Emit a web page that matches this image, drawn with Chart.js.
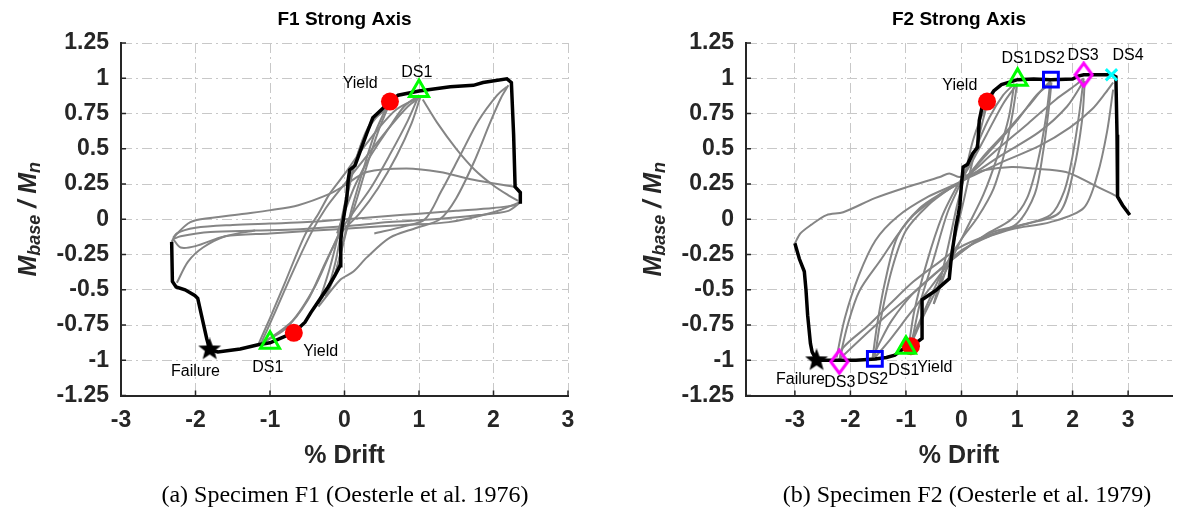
<!DOCTYPE html>
<html>
<head>
<meta charset="utf-8">
<script src="https://cdn.jsdelivr.net/npm/chart.js@4.4.1/dist/chart.umd.min.js"></script>
<style>
  body { margin: 0; background: #fff; width: 1186px; height: 519px; overflow: hidden; position: relative; }
  canvas { position: absolute; top: 0; }
  #c1 { left: 0; }
  #c2 { left: 600px; }
  .cap { position: absolute; top: 481px; width: 560px; text-align: center; color: #000;
         font: 24px "Liberation Serif", "Times New Roman", serif; }
</style>
</head>
<body>
<canvas id="c1" width="600" height="519"></canvas>
<canvas id="c2" width="586" height="519"></canvas>
<div class="cap" style="left:65px">(a) Specimen F1 (Oesterle et al. 1976)</div>
<div class="cap" style="left:687px">(b) Specimen F2 (Oesterle et al. 1979)</div>
<script>
// axis ticks
const xTicks = [-3, -2, -1, 0, 1, 2, 3];
const xTickLabels = ["-3", "-2", "-1", "0", "1", "2", "3"];
const yTicks = [-1.25, -1, -0.75, -0.5, -0.25, 0, 0.25, 0.5, 0.75, 1, 1.25];
const yTickLabels = ["-1.25", "-1", "-0.75", "-0.5", "-0.25", "0", "0.25", "0.5", "0.75", "1", "1.25"];

// ---- F1: [drift %, Mbase/Mn] ----
const f1Backbone = [[-2.32,-0.16],[-2.31,-0.44],[-2.26,-0.48],[-2.14,-0.50],[-2.01,-0.54],[-1.97,-0.56],[-1.92,-0.68],[-1.85,-0.845],[-1.81,-0.923],[-1.70,-0.94],[-1.40,-0.92],[-1.16,-0.89],[-1.0,-0.876],[-0.80,-0.83],[-0.68,-0.805],[-0.53,-0.73],[-0.45,-0.66],[-0.36,-0.59],[-0.22,-0.48],[-0.13,-0.40],[-0.06,-0.33],[-0.05,-0.15],[-0.03,-0.05],[0.0,0.05],[0.03,0.15],[0.05,0.28],[0.07,0.35],[0.14,0.38],[0.23,0.51],[0.30,0.61],[0.38,0.72],[0.48,0.77],[0.61,0.835],[0.72,0.88],[1.0,0.91],[1.42,0.94],[1.73,0.95],[1.86,0.97],[2.18,0.996],[2.24,0.97],[2.27,0.6],[2.29,0.23],[2.36,0.19],[2.36,0.11]];
const f1Loop1 = [[-0.35,-0.6],[-0.2,-0.35],[-0.08,-0.1],[0.02,0.15],[0.15,0.42],[0.3,0.62],[0.45,0.74],[0.55,0.78]];
const f1Loop2 = [[0.55,0.78],[0.4,0.6],[0.25,0.35],[0.1,0.08],[-0.02,-0.18],[-0.15,-0.42],[-0.35,-0.6]];
const f1Loop3 = [[-0.25,-0.55],[-0.12,-0.3],[-0.02,-0.02],[0.06,0.22],[0.2,0.5],[0.35,0.68],[0.58,0.79]];
const f1Loop4 = [[0.58,0.79],[0.45,0.62],[0.3,0.38],[0.14,0.1],[0.0,-0.12],[-0.12,-0.38],[-0.25,-0.55]];
const f1Loop5 = [[-0.1,-0.1],[0.0,0.05],[0.15,0.25],[0.35,0.45],[0.6,0.65],[0.8,0.8],[1.0,0.88]];
const f1Loop6 = [[1.0,0.88],[0.85,0.7],[0.6,0.45],[0.35,0.22],[0.12,0.05],[-0.05,-0.08],[-0.2,-0.25],[-0.4,-0.48],[-0.7,-0.72],[-1.1,-0.88]];
const f1Loop7 = [[-1.15,-0.88],[-1.0,-0.7],[-0.8,-0.45],[-0.53,-0.11],[-0.36,0.03],[-0.2,0.18],[0.0,0.32],[0.2,0.47],[0.45,0.64],[0.7,0.78],[1.02,0.87]];
const f1Loop8 = [[1.02,0.87],[0.9,0.68],[0.7,0.45],[0.45,0.22],[0.2,0.04],[-0.05,-0.1],[-0.25,-0.3],[-0.5,-0.58],[-0.8,-0.78],[-1.12,-0.88]];
const f1Loop9 = [[-1.12,-0.88],[-0.95,-0.68],[-0.7,-0.38],[-0.45,-0.1],[-0.25,0.08],[0.0,0.25],[0.3,0.45],[0.6,0.65],[0.85,0.8],[1.0,0.86]];
const f1Loop10 = [[-0.35,-0.62],[-0.06,-0.43],[0.12,-0.37],[0.3,-0.27],[0.61,-0.13],[0.97,-0.06],[1.28,0.0],[1.5,0.15],[1.75,0.42],[1.95,0.68],[2.1,0.86],[2.2,0.95]];
const f1Loop11 = [[0.4,-0.1],[0.8,-0.05],[1.08,0.0],[1.3,0.2],[1.55,0.45],[1.8,0.7],[2.05,0.88],[2.18,0.94]];
const f1Loop12 = [[1.05,0.85],[1.25,0.68],[1.5,0.5],[1.75,0.35],[2.0,0.24],[2.2,0.17],[2.33,0.13]];
const f1Loop13 = [[-2.32,-0.16],[-2.25,-0.1],[-2.0,-0.06],[-1.5,-0.04],[-1.0,-0.03],[-0.5,-0.02],[0.0,0.0],[0.5,0.02],[1.0,0.04],[1.5,0.06],[2.0,0.08],[2.3,0.1]];
const f1Loop14 = [[2.36,0.12],[2.2,0.06],[1.8,0.03],[1.2,0.0],[0.6,-0.02],[0.0,-0.05],[-0.6,-0.07],[-1.2,-0.08],[-1.8,-0.09],[-2.2,-0.12],[-2.3,-0.14]];
const f1Loop15 = [[-2.3,-0.14],[-2.2,-0.2],[-2.0,-0.19],[-1.6,-0.12],[-1.0,-0.1],[-0.4,-0.08],[0.2,-0.06],[0.8,-0.04],[1.4,-0.02],[2.0,0.05],[2.35,0.12]];
const f1Loop16 = [[-2.3,-0.13],[-2.1,-0.03],[-1.93,0.0],[-1.34,0.04],[-0.99,0.065],[-0.62,0.1],[-0.2,0.18],[0.0,0.24],[0.3,0.335],[0.83,0.36],[1.28,0.335],[1.73,0.28],[2.29,0.23]];
const f1Loop17 = [[-2.25,-0.45],[-2.1,-0.3],[-1.9,-0.2],[-1.6,-0.12],[-1.2,-0.08]];
const f1Yield = [[0.61,0.835],[-0.68,-0.805]];
const f1DS1 = [[1.0,0.91],[-1.0,-0.876]];
const f1Failure = [[-1.81,-0.923]];

// ---- F2 ----
const f2Backbone = [[-3.0,-0.17],[-2.92,-0.28],[-2.83,-0.37],[-2.80,-0.5],[-2.77,-0.68],[-2.72,-0.88],[-2.69,-0.94],[-2.61,-1.0],[-2.2,-1.0],[-1.9,-1.0],[-1.56,-0.99],[-1.35,-0.98],[-1.2,-0.963],[-1.0,-0.905],[-0.91,-0.90],[-0.83,-0.88],[-0.71,-0.845],[-0.71,-0.57],[-0.45,-0.5],[-0.22,-0.42],[-0.19,-0.3],[-0.16,-0.21],[-0.1,-0.05],[-0.06,0.03],[-0.03,0.1],[0.0,0.25],[0.03,0.37],[0.11,0.39],[0.2,0.465],[0.29,0.51],[0.32,0.70],[0.37,0.795],[0.46,0.835],[0.58,0.91],[0.72,0.955],[1.01,0.99],[1.3,0.995],[1.61,0.99],[2.0,0.995],[2.1,1.015],[2.2,1.025],[2.7,1.025],[2.78,1.01],[2.8,0.6],[2.81,0.16],[2.9,0.1],[3.03,0.03]];
const f2Loop1 = [[-0.5,-0.6],[-0.35,-0.38],[-0.2,-0.12],[-0.08,0.1],[0.05,0.3],[0.2,0.55],[0.35,0.72],[0.45,0.8]];
const f2Loop2 = [[0.45,0.8],[0.32,0.6],[0.18,0.38],[0.05,0.15],[-0.1,-0.1],[-0.25,-0.32],[-0.4,-0.5],[-0.5,-0.6]];
const f2Loop3 = [[-0.9,-0.88],[-0.75,-0.6],[-0.5,-0.28],[-0.25,0.05],[0.0,0.27],[0.25,0.5],[0.5,0.72],[0.75,0.88],[0.95,0.96]];
const f2Loop4 = [[0.95,0.96],[0.85,0.72],[0.65,0.45],[0.4,0.18],[0.1,-0.06],[-0.15,-0.26],[-0.45,-0.5],[-0.7,-0.7],[-0.9,-0.88]];
const f2Loop5 = [[-0.95,-0.9],[-0.85,-0.65],[-0.62,-0.3],[-0.35,0.02],[-0.1,0.22],[0.15,0.38],[0.45,0.6],[0.75,0.82],[1.0,0.96]];
const f2Loop6 = [[1.0,0.96],[0.92,0.75],[0.78,0.48],[0.58,0.22],[0.3,0.02],[0.0,-0.14],[-0.25,-0.3],[-0.5,-0.5],[-0.75,-0.72],[-0.95,-0.9]];
const f2Loop7 = [[-1.56,-0.98],[-1.45,-0.7],[-1.25,-0.35],[-1.0,-0.08],[-0.6,0.1],[-0.2,0.22],[0.05,0.28],[0.4,0.45],[0.8,0.62],[1.2,0.8],[1.45,0.92],[1.6,0.98]];
const f2Loop8 = [[1.6,0.98],[1.52,0.72],[1.38,0.42],[1.18,0.15],[0.9,0.0],[0.43,-0.11],[-0.15,-0.28],[-0.55,-0.48],[-0.95,-0.68],[-1.3,-0.86],[-1.56,-0.98]];
const f2Loop9 = [[-1.6,-0.98],[-1.52,-0.75],[-1.38,-0.45],[-1.15,-0.12],[-0.75,0.08],[-0.3,0.2],[0.0,0.27],[0.5,0.48],[1.0,0.7],[1.35,0.88],[1.62,0.97]];
const f2Loop10 = [[1.62,0.97],[1.57,0.78],[1.47,0.48],[1.32,0.18],[1.0,-0.03],[0.5,-0.12],[0.0,-0.22],[-0.4,-0.36],[-0.86,-0.52],[-1.26,-0.72],[-1.48,-0.88],[-1.6,-0.98]];
const f2Loop11 = [[-2.2,-1.0],[-2.05,-0.75],[-1.84,-0.51],[-1.44,-0.28],[-1.15,-0.11],[-0.86,0.03],[-0.4,0.17],[0.0,0.27],[0.6,0.48],[1.2,0.68],[1.7,0.85],[2.05,0.95],[2.2,1.0]];
const f2Loop12 = [[2.2,1.0],[2.12,0.75],[2.0,0.45],[1.85,0.2],[1.6,0.03],[1.0,-0.05],[0.43,-0.12],[-0.04,-0.2],[-0.39,-0.3],[-0.86,-0.44],[-1.26,-0.59],[-1.67,-0.75],[-2.13,-0.91],[-2.2,-1.0]];
const f2Loop13 = [[-2.25,-0.98],[-2.1,-0.7],[-1.85,-0.4],[-1.55,-0.15],[-1.15,0.02],[-0.6,0.16],[0.0,0.27],[0.7,0.45],[1.4,0.62],[1.9,0.8],[2.2,0.98]];
const f2Loop14 = [[2.22,0.98],[2.17,0.7],[2.02,0.35],[1.77,0.05],[1.2,-0.03],[0.5,-0.1],[-0.15,-0.28],[-0.8,-0.5],[-1.4,-0.7],[-1.9,-0.88],[-2.22,-1.0]];
const f2Loop15 = [[0.0,0.27],[0.7,0.4],[1.4,0.52],[1.95,0.65],[2.35,0.78],[2.6,0.9],[2.73,0.97]];
const f2Loop16 = [[2.73,0.92],[2.62,0.62],[2.45,0.32],[2.2,0.08],[1.6,-0.02],[0.9,-0.07],[0.2,-0.16]];
const f2Loop17 = [[-3.0,-0.17],[-2.9,-0.1],[-2.71,-0.04],[-2.43,0.03],[-2.13,0.05],[-1.56,0.15],[-0.97,0.23],[-0.39,0.3],[-0.22,0.325],[-0.04,0.3],[0.43,0.35],[0.9,0.37],[1.3,0.36],[1.88,0.335],[2.35,0.25],[2.81,0.16]];
const f2Yield = [[0.46,0.835],[-0.91,-0.90]];
const f2DS1 = [[1.01,0.99],[-1.0,-0.91]];
const f2DS2 = [[1.61,0.99],[-1.56,-0.99]];
const f2DS3 = [[2.2,1.025],[-2.2,-1.01]];
const f2DS4 = [[2.7,1.025]];
const f2Failure = [[-2.61,-1.0]];

// damage-state text, placed in data units
const f1Notes = [["Yield",0.21,0.963],["DS1",0.97,1.04],["Failure",-2.0,-1.08],["DS1",-1.03,-1.05],["Yield",-0.32,-0.94]];
const f2Notes = [["Yield",-0.03,0.95],["DS1",1.0,1.14],["DS2",1.58,1.14],["DS3",2.19,1.16],["DS4",3.0,1.16],
                 ["Failure",-2.9,-1.14],["DS3",-2.19,-1.16],["DS2",-1.6,-1.14],["DS1",-1.04,-1.07],["Yield",-0.48,-1.05]];

const SANS = "'Liberation Sans', Arial, Helvetica, sans-serif";
const AXIS = "#262626";

function pts(a) { return a.map(p => ({ x: p[0], y: p[1] })); }

function grayLine(a) {
  return { data: pts(a), showLine: true, borderColor: "#858585", borderWidth: 2, pointRadius: 0,
           tension: 0.3, order: 3 };
}
function blackLine(a) {
  return { data: pts(a), showLine: true, borderColor: "#000", borderWidth: 3.5, pointRadius: 0, order: 2 };
}
function marks(a, style, r, color, filled, order) {
  return { data: pts(a), showLine: false, pointStyle: style, pointRadius: r,
           pointBackgroundColor: filled ? color : "rgba(0,0,0,0)", pointBorderColor: color,
           pointBorderWidth: filled ? 0 : 3, order: order };
}

function starImage(size) {
  const c = document.createElement("canvas");
  c.width = c.height = size;
  const g = c.getContext("2d");
  const r = size / 2, ri = r * 0.42;
  g.beginPath();
  for (let i = 0; i < 10; i++) {
    const a = -Math.PI / 2 + i * Math.PI / 5, rr = i % 2 ? ri : r;
    g.lineTo(r + rr * Math.cos(a), r + rr * Math.sin(a));
  }
  g.closePath();
  g.fillStyle = "#000";
  g.fill();
  return c;
}
function diamondImage(w, h) {
  const c = document.createElement("canvas");
  c.width = w; c.height = h;
  const g = c.getContext("2d");
  g.beginPath();
  g.moveTo(w / 2, 2); g.lineTo(w - 2, h / 2); g.lineTo(w / 2, h - 2); g.lineTo(2, h / 2);
  g.closePath();
  g.strokeStyle = "#ff00ff"; g.lineWidth = 3; g.lineJoin = "miter";
  g.stroke();
  return c;
}
const star = starImage(24);
const diamond = diamondImage(21, 27);

// small inward tick marks like MATLAB axes
const inwardTicks = {
  id: "inwardTicks",
  afterDraw(chart) {
    const { ctx, chartArea: ca, scales: { x, y } } = chart;
    ctx.save();
    ctx.strokeStyle = AXIS; ctx.lineWidth = 1.5;
    ctx.beginPath();
    xTicks.forEach(v => { const px = x.getPixelForValue(v); ctx.moveTo(px, ca.bottom); ctx.lineTo(px, ca.bottom - 5); });
    yTicks.forEach(v => { const py = y.getPixelForValue(v); ctx.moveTo(ca.left, py); ctx.lineTo(ca.left + 5, py); });
    ctx.stroke();
    ctx.restore();
  }
};

// rotated y label with subscripts
const yLabel = {
  id: "yLabel",
  afterDraw(chart, args, opts) {
    const ctx = chart.ctx, ca = chart.chartArea;
    const parts = [["M", 25, 0], ["base", 18, 6], [" / ", 25, 0], ["M", 25, 0], ["n", 18, 6]];
    ctx.save();
    ctx.translate(opts.x, (ca.top + ca.bottom) / 2);
    ctx.rotate(-Math.PI / 2);
    ctx.fillStyle = AXIS;
    ctx.textBaseline = "middle";
    let total = 0;
    parts.forEach(p => { ctx.font = "italic bold " + p[1] + "px " + SANS; total += ctx.measureText(p[0]).width; });
    let cx = -total / 2;
    parts.forEach(p => {
      ctx.font = "italic bold " + p[1] + "px " + SANS;
      ctx.fillText(p[0], cx, p[2]);
      cx += ctx.measureText(p[0]).width;
    });
    ctx.restore();
  }
};

const notes = {
  id: "notes",
  afterDatasetsDraw(chart, args, opts) {
    const { ctx, scales: { x, y } } = chart;
    ctx.save();
    ctx.font = "16px " + SANS;
    ctx.fillStyle = "#000";
    ctx.textAlign = "center";
    ctx.textBaseline = "middle";
    opts.items.forEach(n => ctx.fillText(n[0], x.getPixelForValue(n[1]), y.getPixelForValue(n[2])));
    ctx.restore();
  }
};

function build(id, title, xMin, xMax, yWidth, rightPad, labelX, datasets, items) {
  return new Chart(document.getElementById(id), {
    type: "scatter",
    data: { datasets: datasets },
    options: {
      responsive: false,
      animation: false,
      events: [],
      layout: { padding: { left: 0, right: rightPad, top: 0, bottom: 47.6 } },
      plugins: {
        legend: { display: false },
        tooltip: { enabled: false },
        title: { display: true, text: title, fullSize: false, color: "#000",
                 font: { family: SANS, size: 19, weight: "bold" }, padding: { top: 8.2, bottom: 12 } },
        yLabel: { x: labelX },
        notes: { items: items }
      },
      scales: {
        x: {
          type: "linear", min: xMin, max: xMax,
          afterBuildTicks: s => { s.ticks = xTicks.map(v => ({ value: v })); },
          afterFit: s => { s.height = 75.8; },
          ticks: { callback: v => xTickLabels[xTicks.indexOf(v)], color: AXIS, padding: 11,
                   font: { family: SANS, size: 23, weight: "bold" }, maxRotation: 0, autoSkip: false },
          grid: { color: "#c8c8c8", lineWidth: 1, drawTicks: false },
          border: { display: true, color: AXIS, width: 2, dash: [10, 4, 2, 4] },
          title: { display: true, text: "% Drift", color: AXIS, padding: 0,
                   font: { family: SANS, size: 25, weight: "bold" } }
        },
        y: {
          type: "linear", min: -1.25, max: 1.25,
          afterBuildTicks: s => { s.ticks = yTicks.map(v => ({ value: v })); },
          afterFit: s => { s.width = yWidth; },
          ticks: { callback: v => yTickLabels[yTicks.indexOf(v)], color: AXIS, padding: 12,
                   font: { family: SANS, size: 23, weight: "bold" }, autoSkip: false },
          grid: { color: "#c8c8c8", lineWidth: 1, drawTicks: false },
          border: { display: true, color: AXIS, width: 2, dash: [10, 4, 2, 4] }
        }
      }
    },
    plugins: [inwardTicks, yLabel, notes]
  });
}

const f1Loops = [f1Loop1, f1Loop2, f1Loop3, f1Loop4, f1Loop5, f1Loop6, f1Loop7, f1Loop8, f1Loop9,
                 f1Loop10, f1Loop11, f1Loop12, f1Loop13, f1Loop14, f1Loop15, f1Loop16, f1Loop17];
const f2Loops = [f2Loop1, f2Loop2, f2Loop3, f2Loop4, f2Loop5, f2Loop6, f2Loop7, f2Loop8, f2Loop9,
                 f2Loop10, f2Loop11, f2Loop12, f2Loop13, f2Loop14, f2Loop15, f2Loop16, f2Loop17];

build("c1", "F1 Strong Axis", -3, 3, 121, 32, 29, [
  marks(f1DS1, "triangle", 11, "#00ff00", false, 0),
  marks(f1Failure, star, 10, "#000", true, 0),
  marks(f1Yield, "circle", 9, "#ff0000", true, 1),
  blackLine(f1Backbone)
].concat(f1Loops.map(grayLine)), f1Notes);

build("c2", "F2 Strong Axis", -3.88, 3.79, 146, 0, 54, [
  marks(f2DS4, "crossRot", 8, "#00ffff", false, 0),
  marks(f2DS3, diamond, 10, "#ff00ff", false, 0),
  marks(f2DS2, "rect", 10.5, "#0000ff", false, 0),
  marks(f2DS1, "triangle", 11, "#00ff00", false, 0),
  marks(f2Failure, star, 10, "#000", true, 0),
  marks(f2Yield, "circle", 9, "#ff0000", true, 1),
  blackLine(f2Backbone)
].concat(f2Loops.map(grayLine)), f2Notes);
</script>
</body>
</html>
